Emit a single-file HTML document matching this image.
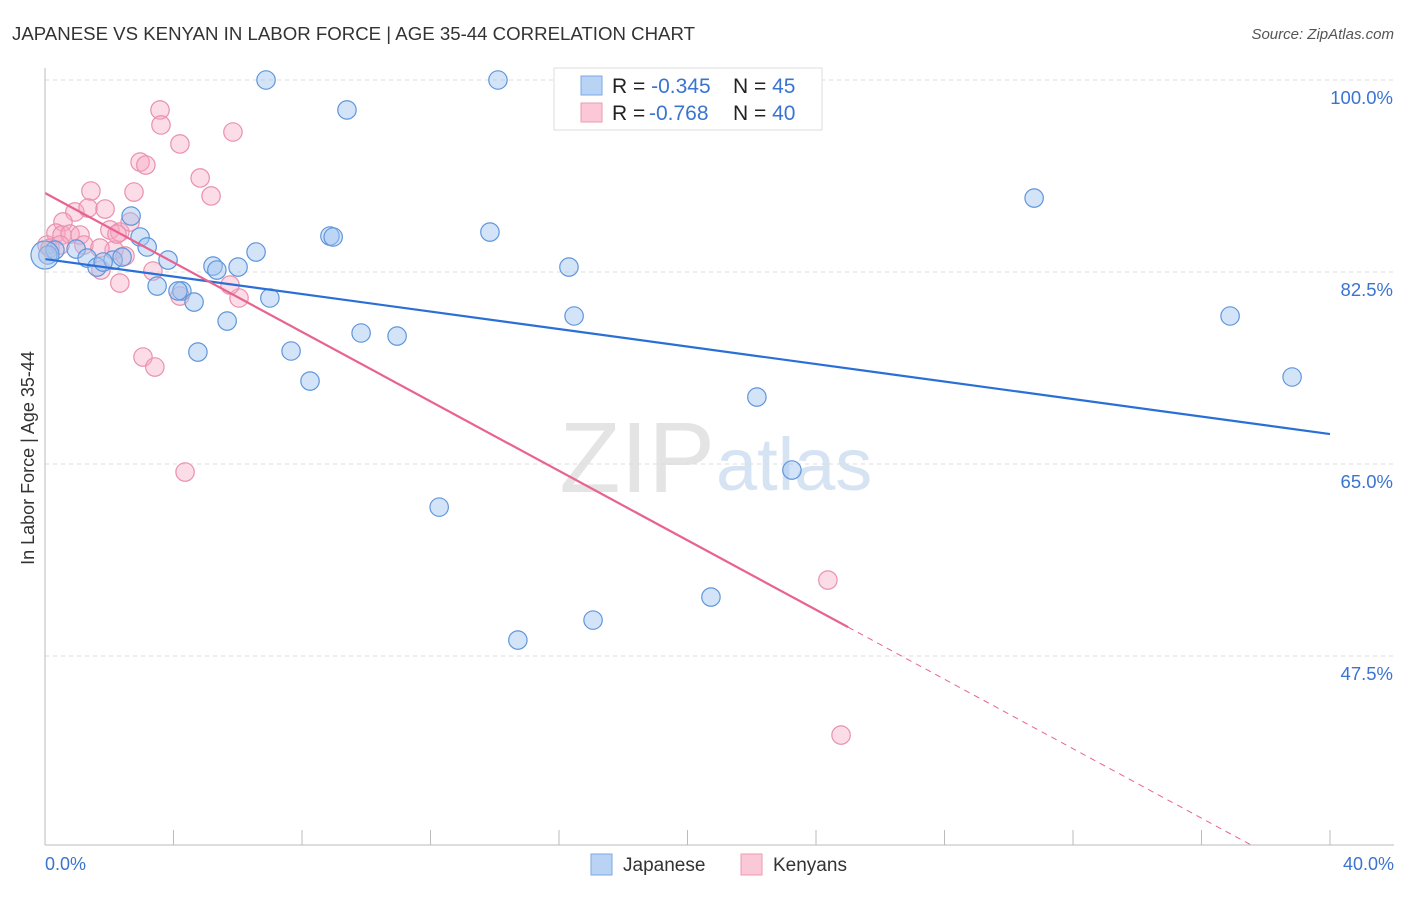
<!DOCTYPE html>
<html><head><meta charset="utf-8"><style>
body{margin:0;background:#fff;font-family:"Liberation Sans",sans-serif}
svg text{font-family:"Liberation Sans",sans-serif}
</style></head><body>
<svg id="c" width="1406" height="892" xmlns="http://www.w3.org/2000/svg">
<text x="12" y="40" font-size="18" fill="#333" textLength="683" lengthAdjust="spacingAndGlyphs">JAPANESE VS KENYAN IN LABOR FORCE | AGE 35-44 CORRELATION CHART</text>
<text x="1394" y="39" font-size="15" fill="#555" text-anchor="end" font-style="italic">Source: ZipAtlas.com</text>
<text x="715" y="492" font-size="100" fill="#e4e4e4" text-anchor="end" font-family="Liberation Serif">ZIP</text>
<text x="716" y="490" font-size="74" fill="#d6e3f3">atlas</text>
<g id="grid"></g>
<g id="pts"></g>
<g id="trend"></g>
<line x1="45" y1="68" x2="45" y2="845" stroke="#bbb"/>
<line x1="45" y1="845" x2="1394" y2="845" stroke="#bbb"/>
<text x="34" y="458" font-size="18" fill="#333" text-anchor="middle" transform="rotate(-90 34 458)">In Labor Force | Age 35-44</text>
<text x="45" y="870" font-size="18" fill="#3a74d0">0.0%</text>
<text x="1394" y="870" font-size="18" fill="#3a74d0" text-anchor="end">40.0%</text>
<g>
<rect x="554" y="68" width="268" height="62" fill="#fff" stroke="#ddd"/>
<rect x="581" y="76" width="21" height="19" fill="#b9d3f5" stroke="#7aa8e6"/>
<rect x="581" y="103" width="21" height="19" fill="#fbc8d7" stroke="#eb9ab4"/>
<text x="612" y="93" font-size="21" fill="#222">R = <tspan fill="#3a74d0">-0.345</tspan><tspan x="733">N = </tspan><tspan fill="#3a74d0">45</tspan></text>
<text x="612" y="120" font-size="21" fill="#222">R = <tspan x="649" fill="#3a74d0">-0.768</tspan><tspan x="733">N = </tspan><tspan fill="#3a74d0">40</tspan></text>
</g>
<g>
<rect x="591" y="854" width="21" height="21" fill="#b9d3f5" stroke="#7aa8e6"/>
<text x="623" y="871" font-size="19" fill="#333">Japanese</text>
<rect x="741" y="854" width="21" height="21" fill="#fbc8d7" stroke="#eb9ab4"/>
<text x="773" y="871" font-size="19" fill="#333">Kenyans</text>
</g>
</svg>
<script>
const yTicks=[100,82.5,65,47.5];
const yTickLabels=["100.0%","82.5%","65.0%","47.5%"];
const xTicks=[0,4,8,12,16,20,24,28,32,36,40];
const japX=[6.88,14.10,9.40,30.79,2.68,13.85,8.87,8.97,2.96,3.18,6.57,0.31,0.09,0.97,1.31,1.62,2.12,2.40,3.83,5.23,5.35,6.01,16.31,3.49,4.26,4.14,4.64,7.00,5.67,16.47,36.89,9.84,10.96,4.76,7.66,8.25,38.82,22.16,23.25,12.27,20.73,17.06,14.72,1.81,0];
const japY=[100,100,97.27,89.24,87.60,86.14,85.78,85.69,85.69,84.78,84.32,84.50,84.05,84.59,83.77,82.95,83.59,83.86,83.59,83.04,82.68,82.95,82.95,81.22,80.77,80.77,79.76,80.13,78.03,78.49,78.49,76.94,76.66,75.20,75.30,72.56,72.93,71.10,64.45,61.07,52.87,50.77,48.95,83.41,84.05];
const kenX=[3.58,3.61,4.20,5.85,2.96,3.14,4.83,2.77,5.17,1.43,0.93,1.34,1.87,0.56,0.34,0.53,0.06,0.78,1.09,2.02,2.33,2.65,2.15,1.21,1.71,2.49,3.36,4.20,6.04,2.33,3.05,3.42,5.76,1.74,4.36,24.37,24.78,0.16,2.24,0.47];
const kenY=[97.27,95.90,94.17,95.26,92.52,92.25,91.07,89.79,89.43,89.88,87.97,88.33,88.24,87.06,86.05,85.87,84.96,85.96,85.87,86.33,86.14,87.06,84.50,84.96,84.68,83.96,82.59,80.31,80.13,81.49,74.75,73.84,81.31,82.68,64.27,54.42,40.29,84.68,85.96,84.96];
const japTrend=[83.68,67.73];
const kenTrend=[89.7,50.13];
const kenSolidEnd=25;
const NS="http://www.w3.org/2000/svg";
const sx=v=>45+v/40*1285;
const sy=v=>80+(100-v)*(192/17.5);
function mk(t,a,p){const e=document.createElementNS(NS,t);for(const k in a)e.setAttribute(k,a[k]);p.appendChild(e);return e;}
const grid=document.getElementById('grid');
yTicks.forEach((v,i)=>{
 const l=mk('line',{x1:45,x2:1394,y1:sy(v),y2:sy(v),stroke:'#ddd','stroke-dasharray':'4,4'},grid);
 
 
 const t=mk('text',{x:1393,y:sy(v)+24,'font-size':18.5,fill:'#3a74d0','text-anchor':'end'},grid);
 t.textContent=yTickLabels[i];
 
 
});
xTicks.forEach(v=>{
 const l=mk('line',{x1:sx(v),x2:sx(v),y1:830,y2:845,stroke:'#bbb'},grid);
 
 
});
const pts=document.getElementById('pts');
kenX.forEach((x,i)=>{
 const c=mk('circle',{cx:sx(x),cy:sy(kenY[i]),r:9.2,fill:'rgba(247,168,194,0.4)',stroke:'#e991ae','stroke-width':1.2},pts);
 
 
});
japX.forEach((x,i)=>{
 const c=mk('circle',{cx:sx(x),cy:sy(japY[i]),r:(i==44?14:9.2),fill:'rgba(160,196,240,0.45)',stroke:'#5f96dc','stroke-width':1.2},pts);
 
 
});
const tr=document.getElementById('trend');
const jl=mk('line',{x1:sx(0),y1:sy(japTrend[0]),x2:sx(40),y2:sy(japTrend[1]),stroke:'#2a6fd6','stroke-width':2.2},tr);


const slope=(kenTrend[1]-kenTrend[0])/kenSolidEnd;
const kAt=x=>kenTrend[0]+slope*x;
const kl=mk('line',{x1:sx(0),y1:sy(kAt(0)),x2:sx(kenSolidEnd),y2:sy(kAt(kenSolidEnd)),stroke:'#e8638f','stroke-width':2.2},tr);


const xEnd=Math.min(40,(kenTrend[0]-(100-(845-80)*17.5/192))/-slope);
const kd=mk('line',{x1:sx(kenSolidEnd),y1:sy(kAt(kenSolidEnd)),x2:sx(xEnd),y2:sy(kAt(xEnd)),stroke:'#e8638f','stroke-width':1,'stroke-dasharray':'6,5'},tr);


</script>
</body></html>
